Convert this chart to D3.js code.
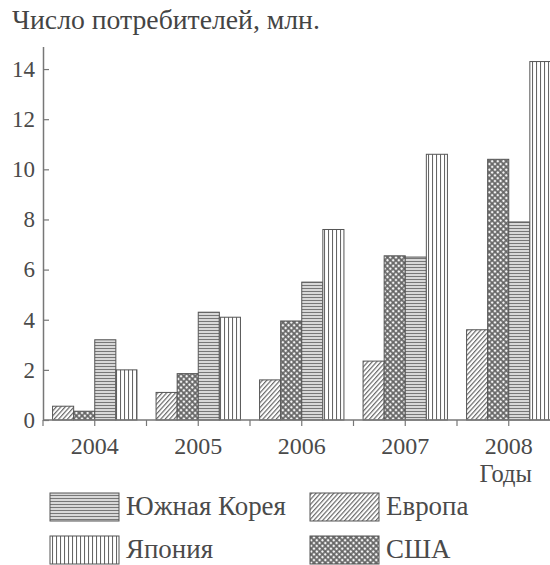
<!DOCTYPE html>
<html><head><meta charset="utf-8">
<script src="https://cdn.jsdelivr.net/npm/d3@7"></script>
<style>html,body{margin:0;padding:0;background:#fff;}svg{display:block;}</style>
</head><body>
<svg id="chart" width="550" height="565"></svg>
<script>
const years = ["2004","2005","2006","2007","2008"];
const seriesNames = ["Европа","США","Южная Корея","Япония"];
const europe = [0.55, 1.1, 1.6, 2.35, 3.6];
const usa = [0.35, 1.85, 3.95, 6.55, 10.4];
const korea = [3.2, 4.3, 5.5, 6.5, 7.9];
const japan = [2.0, 4.1, 7.6, 10.6, 14.3];
const yTicks = [0,2,4,6,8,10,12,14];
const title = "Число потребителей, млн.";
const xTitle = "Годы";
const legendOrder = ["Южная Корея","Европа","Япония","США"];

const series = [europe, usa, korea, japan];
const patternIds = ["pEurope","pUSA","pKorea","pJapan"];
const ink = "#555";
const FF = '"Liberation Serif","Times New Roman",serif';

// scale a text's font size so that it spans the given width
function fit(sel, width) {
  const len = sel.node().getComputedTextLength();
  const fs = parseFloat(sel.attr("font-size"));
  sel.attr("font-size", (fs * width / len).toFixed(2));
  return sel;
}

const svg = d3.select("#chart");
const defs = svg.append("defs");
// Europe: diagonal lines
let p = defs.append("pattern").attr("id","pEurope").attr("patternUnits","userSpaceOnUse")
  .attr("width",3.3).attr("height",3.3).attr("patternTransform","rotate(42)");
p.append("rect").attr("width",3.3).attr("height",3.3).attr("fill","#fff");
p.append("line").attr("x1",0.6).attr("y1",0).attr("x2",0.6).attr("y2",3.3).attr("stroke","#6a6a6a").attr("stroke-width",1.2);
// USA: dark mesh with white dots
p = defs.append("pattern").attr("id","pUSA").attr("patternUnits","userSpaceOnUse")
  .attr("width",4).attr("height",4).attr("patternTransform","rotate(45)");
p.append("rect").attr("width",4).attr("height",4).attr("fill","#666");
p.append("circle").attr("cx",2).attr("cy",2).attr("r",1.3).attr("fill","#f4f4f4");
// Korea: horizontal lines
p = defs.append("pattern").attr("id","pKorea").attr("patternUnits","userSpaceOnUse")
  .attr("width",4).attr("height",3);
p.append("rect").attr("width",4).attr("height",3).attr("fill","#d8d8d8");
p.append("line").attr("x1",0).attr("y1",0.5).attr("x2",4).attr("y2",0.5).attr("stroke","#777").attr("stroke-width",1);
// Japan: vertical lines
p = defs.append("pattern").attr("id","pJapan").attr("patternUnits","userSpaceOnUse")
  .attr("width",4).attr("height",4);
p.append("rect").attr("width",4).attr("height",4).attr("fill","#fff");
p.append("line").attr("x1",0.5).attr("y1",0).attr("x2",0.5).attr("y2",4).attr("stroke","#666").attr("stroke-width",1.1);

const x0 = d3.scaleBand().domain(years).range([43, 560.5]).paddingInner(0.185).paddingOuter(0.0925);
const x1 = d3.scaleBand().domain(d3.range(series.length)).range([0, x0.bandwidth()]);
const y = d3.scaleLinear().domain([0, 14.9]).range([420, 46.5]);

// bars
const g = svg.append("g");
years.forEach((yr, i) => {
  series.forEach((s, j) => {
    g.append("rect")
      .attr("x", x0(yr) + x1(j))
      .attr("y", y(s[i]))
      .attr("width", x1.bandwidth())
      .attr("height", y(0) - y(s[i]))
      .attr("fill", `url(#${patternIds[j]})`)
      .attr("stroke", ink).attr("stroke-width", 1);
  });
});

// y axis
const yAxis = d3.axisLeft(y).tickValues(yTicks).tickSizeInner(-6).tickSizeOuter(0).tickPadding(8);
const ya = svg.append("g").attr("transform","translate(43,0)").call(yAxis);
ya.attr("font-family", FF);
ya.select(".domain").attr("stroke","#777").attr("stroke-width",1.5);
ya.selectAll(".tick line").attr("stroke","#777").attr("stroke-width",1.2);
ya.selectAll(".tick text").attr("font-size",23).attr("fill","#4a4a4a").style("font-family", FF);

// x axis
const xLin = d3.scaleLinear().domain([0, 5]).range([43, 560.5]);
const xa = svg.append("g").attr("transform","translate(0,420)");
xa.append("line").attr("x1",43).attr("x2",550).attr("y1",0).attr("y2",0).attr("stroke","#777").attr("stroke-width",1.5);
const tickPos = years.map(yr => x0(yr) + x0.bandwidth()/2).concat(d3.range(0,5).map(k => xLin(k)));
xa.selectAll("line.t").data(tickPos).join("line").attr("class","t")
  .attr("x1", d=>d).attr("x2", d=>d).attr("y1",0).attr("y2",6).attr("stroke","#777").attr("stroke-width",1.2);
xa.selectAll("text").data(years).join("text")
  .attr("x", d => x0(d) + x0.bandwidth()/2).attr("y", 34)
  .attr("text-anchor","middle").attr("font-size",24).attr("fill","#4a4a4a")
  .style("font-family", FF)
  .text(d=>d);

svg.append("text").attr("x",532).attr("y",482).attr("text-anchor","end")
  .attr("font-size",24.5).attr("fill","#4a4a4a").style("font-family", FF).text(xTitle);

fit(svg.append("text").attr("x",12).attr("y",29)
  .attr("font-size",20).attr("fill","#444").style("font-family", FF).text(title), 308);

// legend
const legPos = [[50,493],[310,493],[50,536],[310,536]];
let legFs = null;
legendOrder.forEach((name, k) => {
  const j = seriesNames.indexOf(name);
  const [lx, ly] = legPos[k];
  svg.append("rect").attr("x",lx).attr("y",ly).attr("width",69).attr("height",28)
    .attr("fill",`url(#${patternIds[j]})`).attr("stroke",ink).attr("stroke-width",1);
  const t = svg.append("text").attr("x", lx + 76).attr("y", ly + 22)
    .attr("font-size",22).attr("fill","#4a4a4a").style("font-family", FF).text(name);
  if (k === 0) { fit(t, 160); legFs = t.attr("font-size"); }
  else t.attr("font-size", legFs);
});
</script>
</body></html>
